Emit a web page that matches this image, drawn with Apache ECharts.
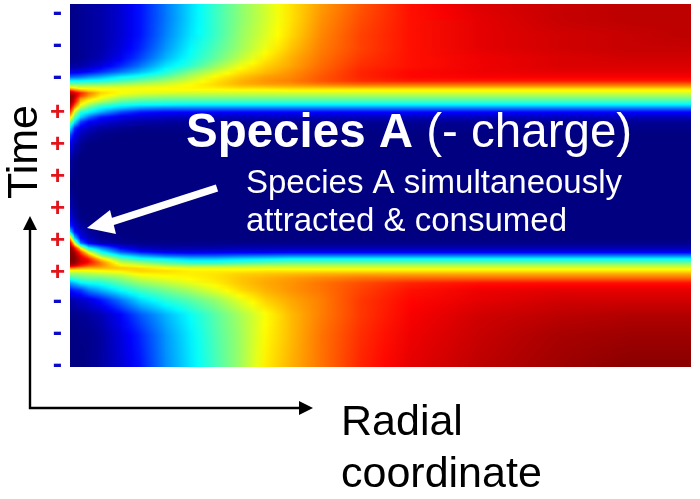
<!DOCTYPE html>
<html><head><meta charset="utf-8">
<style>html,body{margin:0;padding:0;background:#fff}#c{width:700px;height:499px}</style>
<script src="https://cdn.jsdelivr.net/npm/echarts@6/dist/echarts.min.js"></script>
</head><body><div id="c"></div>
<script>
const radialCoord=[0,4,10,18,30,50,70,95,120,145,170,195,220,250,290,340,410,490,560,621];
const timeLevels=[363,347,332,319,309,301,295,290,286,283,280,278,276,274,271,268,265,262,259,255,250,245,239,232,222,207,182,162,149,141,135,129,124,119,115,111,108,105,103,101,99,96,93,89,84,77,67,52,32,0];
const concentration=[
[1,1,2,3,4,8,14,24,34,43,51,58,65,72,79,86,91,93,94,94],
[1,1,2,3,4,8,14,24,34,43,51,58,65,73,80,86,90,93,94,94],
[1,1,2,3,4,8,14,25,35,43,52,59,66,74,81,86,90,92,93,94],
[1,1,2,3,4,9,16,27,37,45,53,61,68,75,81,86,90,92,93,93],
[1,1,2,3,5,11,19,30,39,47,56,64,70,76,82,86,89,91,92,92],
[3,3,4,6,9,16,24,35,42,52,61,67,71,77,83,86,89,91,91,91],
[10,10,11,13,17,24,31,40,50,58,65,69,73,78,84,87,89,90,90,90],
[22,23,24,27,30,37,41,47,55,63,68,72,74,79,84,87,88,88,88,88],
[38,38,38,39,40,44,48,53,59,65,70,73,75,79,83,85,85,85,85,85],
[48,48,48,49,50,52,55,58,62,66,70,72,73,76,78,78,78,78,78,78],
[62,60,58,58,58,59,60,61,63,65,67,68,69,70,71,71,71,71,71,71],
[72,68,64,63,62,62,62,63,63,63,64,64,65,65,65,65,65,65,65,65],
[88,82,74,68,64,62,61,61,61,61,61,61,62,62,62,62,62,62,62,62],
[95,92,85,76,67,62,60,59,58,58,58,58,58,58,58,58,58,58,58,58],
[99,96,82,73,64,58,55,53,53,53,53,53,53,53,53,53,53,53,53,53],
[100,93,73,66,60,52,49,48,48,48,48,48,48,48,48,48,48,48,48,48],
[100,90,68,60,54,46,43,42,42,42,42,42,42,42,42,42,42,42,42,42],
[97,82,62,54,45,39,37,36,35,35,35,35,35,35,35,35,35,35,35,35],
[92,72,55,46,38,32,27,25,25,25,25,25,25,25,25,25,25,25,25,25],
[82,60,42,38,30,20,15,13,13,13,13,13,13,13,13,13,13,13,13,13],
[68,48,34,24,15,10,8,7,6,6,6,6,6,6,6,6,6,6,6,6],
[50,37,19,12,9,6,4,3,2,2,2,2,2,2,2,2,2,2,2,2],
[37,18,10,7,4,2,1,1,1,1,1,1,1,1,1,1,1,1,1,1],
[20,11,6,3,1,0,0,0,0,0,0,0,0,0,0,0,0,0,0,0],
[10,6,2,0,0,0,0,0,0,0,0,0,0,0,0,0,0,0,0,0],
[4,1,0,0,0,0,0,0,0,0,0,0,0,0,0,0,0,0,0,0],
[1,0,0,0,0,0,0,0,0,0,0,0,0,0,0,0,0,0,0,0],
[5,2,0,0,0,0,0,0,0,0,0,0,0,0,0,0,0,0,0,0],
[10,5,1,0,0,0,0,0,0,0,0,0,0,0,0,0,0,0,0,0],
[16,10,4,1,0,0,0,0,0,0,0,0,0,0,0,0,0,0,0,0],
[36,15,8,3,1,0,0,0,0,0,0,0,0,0,0,0,0,0,0,0],
[70,35,12,6,2,1,0,0,0,0,0,0,0,0,0,0,0,0,0,0],
[92,62,25,11,5,2,1,1,1,1,1,1,1,1,1,1,1,1,1,1],
[100,90,64,38,27,12,6,4,4,4,5,5,5,5,5,5,5,5,5,5],
[100,97,82,60,40,22,14,10,9,10,10,10,11,11,11,11,11,11,11,11],
[100,100,90,76,54,38,30,24,22,22,24,25,26,26,26,26,26,26,26,26],
[100,100,92,86,67,48,40,37,33,33,35,36,38,38,38,38,38,38,38,38],
[100,99,93,88,75,56,50,44,40,40,42,44,46,46,46,46,46,46,46,46],
[98,97,90,84,76,60,56,50,46,46,48,50,51,51,51,51,51,51,51,51],
[92,90,84,78,74,64,60,56,54,54,55,56,56,56,56,56,56,56,56,56],
[76,75,72,70,70,68,66,62,60,60,60,60,60,60,60,60,60,60,60,60],
[60,60,60,61,62,64,67,66,64,64,64,65,65,65,65,65,65,65,65,65],
[52,52,53,54,56,58,63,64,64,65,67,68,69,70,71,71,71,71,71,71],
[42,44,46,48,48,52,58,61,63,65,68,70,72,74,76,77,77,77,77,77],
[28,31,36,38,40,46,52,56,60,64,68,71,73,76,80,84,86,86,86,86],
[14,16,18,25,30,38,44,49,54,60,66,70,73,76,81,86,89,90,90,90],
[4,5,7,9,14,24,34,41,46,52,60,67,71,75,82,87,90,92,92,92],
[1,1,2,3,5,12,21,30,38,46,54,62,69,75,82,88,92,94,95,95],
[0,0,1,1,3,9,16,27,36,45,53,63,69,76,83,89,93,96,97,97],
[0,0,0,1,3,8,14,26,35,44,53,64,70,76,84,90,94,97,99,99]
];
const chargeSigns=['-','-','-','+','+','+','+','+','+','-','-','-'];

function jet(v){
  const t=Math.max(0,Math.min(1,v/100))*4;
  const f=(c)=>Math.round(255*Math.max(0,Math.min(1,1.5-Math.abs(t-c))));
  return 'rgb('+f(3)+','+f(2)+','+f(1)+')';
}
const cells=[];
for(let r=0;r<timeLevels.length-1;r++)for(let c=0;c<radialCoord.length-1;c++)cells.push([c,r]);
function renderCell(params,api){
  const c=api.value(0),r=api.value(1);
  const tl=api.coord([radialCoord[c],timeLevels[r]]);
  const br=api.coord([radialCoord[c+1],timeLevels[r+1]]);
  const kids=[];
  const A=concentration[r],B=concentration[r+1];
  const w=br[0]-tl[0],h=br[1]-tl[1];
  for(let y=0;y<h;y++){
    const s=(y+0.5)/h;
    const L=A[c]+(B[c]-A[c])*s,R=A[c+1]+(B[c+1]-A[c+1])*s;
    const n=Math.max(1,Math.ceil(Math.abs(R-L)/4));
    const stops=[];
    for(let k=0;k<=n;k++)stops.push({offset:k/n,color:jet(L+(R-L)*k/n)});
    kids.push({type:'rect',shape:{x:tl[0],y:tl[1]+y,width:w+(c<radialCoord.length-2?0.6:0),height:1.3},
      style:{fill:{type:'linear',x:0,y:0,x2:1,y2:0,colorStops:stops}},silent:true});
  }
  return {type:'group',children:kids};
}
const F='"Liberation Sans",Arial,sans-serif';
const g=[];
chargeSigns.forEach((s,i)=>{
  g.push({type:'text',x:57.5,y:13+32*i+(s==='-'?0:4),z:5,style:{text:s,fill:s==='+'?'#e2141c':'#0a0ac8',font:'bold '+(s==='+'?26:28)+'px '+F,textAlign:'center',textVerticalAlign:'middle'}});
});
g.push(
 {type:'text',x:186,y:134,z:5,style:{rich:{b:{font:'bold 47.5px '+F,fill:'#fff'},n:{font:'47.5px '+F,fill:'#fff'}},text:'{b|Species A}{n| (- charge)}',textVerticalAlign:'middle'}},
 {type:'text',x:246,y:184,z:5,style:{text:'Species A simultaneously',font:'33px '+F,fill:'#fff',textVerticalAlign:'middle'}},
 {type:'text',x:246,y:222,z:5,style:{text:'attracted & consumed',font:'33px '+F,fill:'#fff',textVerticalAlign:'middle'}},
 {type:'text',x:25,y:152,rotation:Math.PI/2,z:5,style:{text:'Time',font:'43px '+F,fill:'#000',textAlign:'center',textVerticalAlign:'middle'}},
 {type:'text',x:341,y:423,z:5,style:{text:'Radial',font:'43px '+F,fill:'#000',textVerticalAlign:'middle'}},
 {type:'text',x:341,y:475,z:5,style:{text:'coordinate',font:'43px '+F,fill:'#000',textVerticalAlign:'middle'}},
 {type:'polyline',z:5,shape:{points:[[30,228],[30,408],[301,408]]},style:{stroke:'#000',lineWidth:2.4,fill:'none'}},
 {type:'polygon',z:5,shape:{points:[[30,216],[37,230],[23,230]]},style:{fill:'#000'}},
 {type:'polygon',z:5,shape:{points:[[313,408],[299,401],[299,415]]},style:{fill:'#000'}},
 {type:'line',z:5,shape:{x1:217,y1:188,x2:108,y2:223},style:{stroke:'#fff',lineWidth:7.5}},
 {type:'polygon',z:5,shape:{points:[[87,228],[110,210],[116,234]]},style:{fill:'#fff'}}
);
const chart=echarts.init(document.getElementById('c'),null,{renderer:'canvas'});
chart.setOption({
  animation:false,
  backgroundColor:'#fff',
  grid:{left:70,top:4,width:621,height:363},
  xAxis:{type:'value',min:0,max:621,show:false},
  yAxis:{type:'value',min:0,max:363,show:false},
  tooltip:{show:false},
  graphic:g,
  series:[{type:'custom',data:cells,renderItem:renderCell,progressive:0,silent:true,clip:true,encode:{x:0,y:1}}]
});
</script></body></html>
